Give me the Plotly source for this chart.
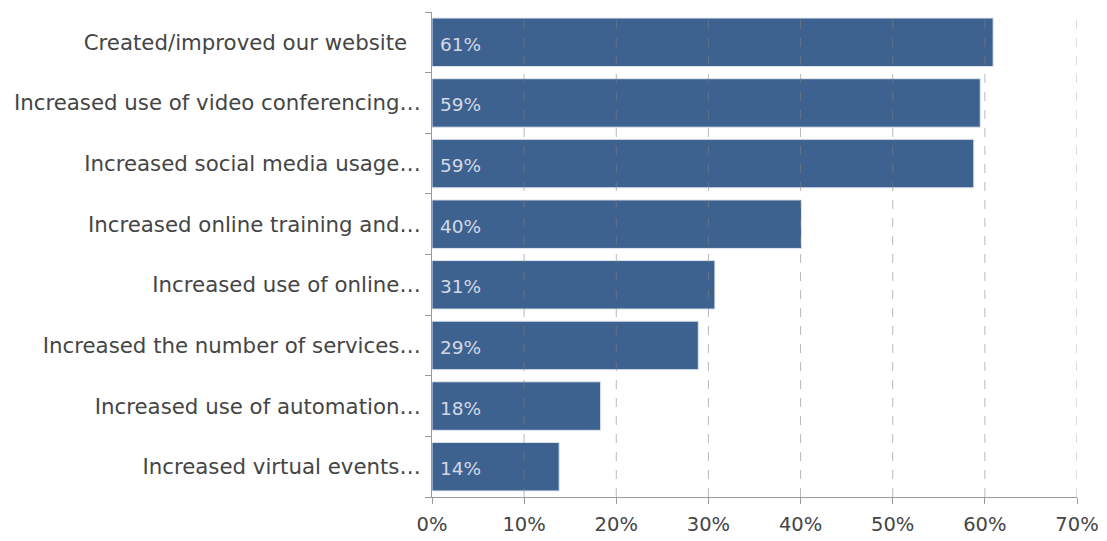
import plotly.graph_objects as go

categories = [
    "Created/improved our website\u00a0\u00a0",
    "Increased use of video conferencing…",
    "Increased social media usage…",
    "Increased online training and…",
    "Increased use of online…",
    "Increased the number of services…",
    "Increased use of automation…",
    "Increased virtual events…",
]
values = [60.9, 59.5, 58.8, 40.1, 30.7, 28.9, 18.3, 13.8]
value_labels = ["61%", "59%", "59%", "40%", "31%", "29%", "18%", "14%"]
x_ticks = [0, 10, 20, 30, 40, 50, 60, 70]
x_tick_labels = ["0%", "10%", "20%", "30%", "40%", "50%", "60%", "70%"]

FONT = "DejaVu Sans"
BAR = "#3e6290"
TXT = "#454545"

fig = go.Figure()
fig.add_trace(go.Bar(
    x=values, y=categories, orientation="h",
    marker=dict(color=BAR, line=dict(color="#dfe5ee", width=1)),
    hoverinfo="skip",
))

for c, lab in zip(categories, value_labels):
    fig.add_annotation(x=0, y=c, xref="x", yref="y", text=lab, showarrow=False,
                       xanchor="left", xshift=6, yshift=-2,
                       font=dict(family=FONT, size=18.5, color="#d3d9e4"))

for t in x_ticks[1:]:
    fig.add_shape(type="line", xref="x", yref="paper", x0=t, x1=t, y0=0, y1=1,
                  layer="above", line=dict(color="rgba(130,130,130,0.55)", width=1, dash="dash"))

fig.update_layout(
    width=1107, height=541,
    margin=dict(l=424, r=38, t=4, b=52),
    paper_bgcolor="white", plot_bgcolor="white",
    bargap=0.2,
    showlegend=False,
    font=dict(family=FONT, size=19, color=TXT),
    xaxis=dict(range=[0, 70], tickvals=x_ticks, ticktext=x_tick_labels,
               showgrid=False, zeroline=False, showline=True, linecolor="#9a9a9a",
               linewidth=1, ticks="outside", ticklen=6, tickcolor="#9a9a9a",
               ticklabelstandoff=4,
               tickfont=dict(family=FONT, size=19.5, color=TXT)),
    yaxis=dict(categoryorder="array", categoryarray=categories[::-1],
               showgrid=False, zeroline=False, showline=True, linecolor="#9a9a9a",
               linewidth=1, ticks="outside", ticklen=6, tickcolor="#9a9a9a",
               tickson="boundaries", ticklabelstandoff=6,
               tickfont=dict(family=FONT, size=21.3, color=TXT)),
)

fig.write_html("out.html")
